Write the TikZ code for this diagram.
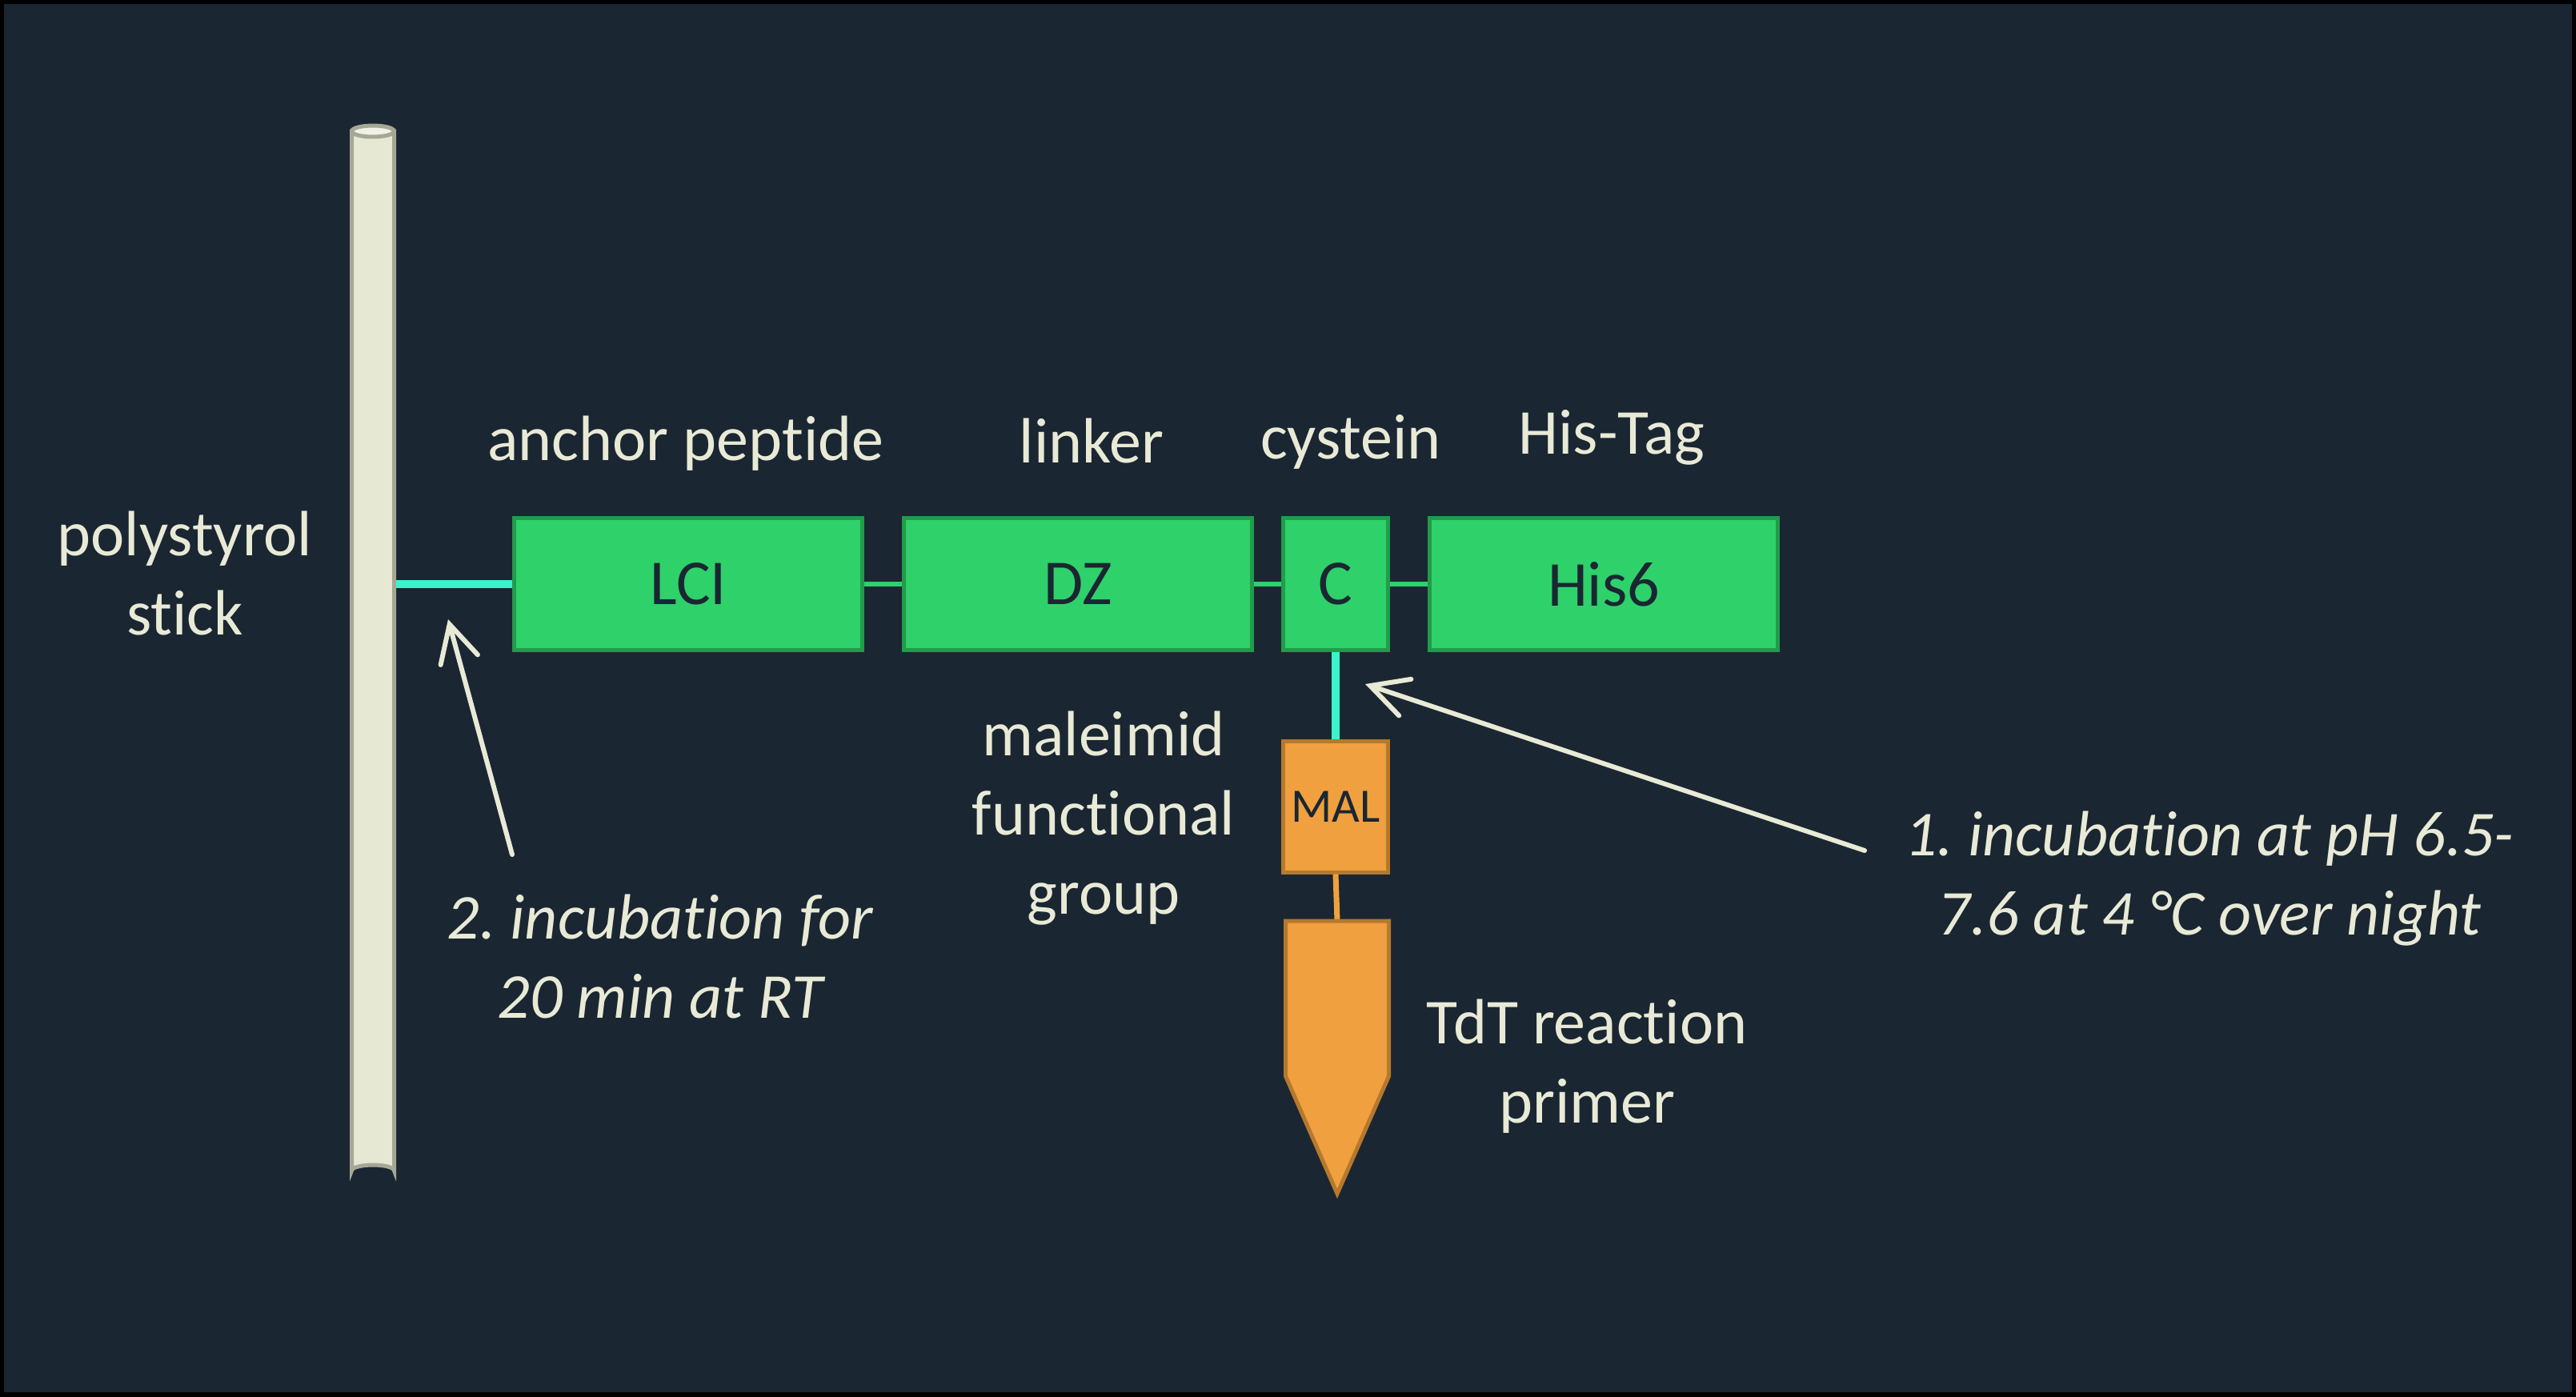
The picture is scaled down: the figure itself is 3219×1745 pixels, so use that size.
\documentclass[tikz,border=0pt]{standalone}
\usepackage{fontspec}
\setmainfont{Carlito}[Ligatures=NoCommon]
\usetikzlibrary{arrows.meta}
\frenchspacing

\definecolor{bgcol}{HTML}{1A2632}
\definecolor{txtcol}{HTML}{E8EAD6}
\definecolor{stickfill}{HTML}{E6E8D4}
\definecolor{stickcap}{HTML}{F0F2E6}
\definecolor{stickline}{HTML}{A6A896}
\definecolor{domfill}{HTML}{2ED16A}
\definecolor{domline}{HTML}{229B4B}
\definecolor{bondcol}{HTML}{3BF3CC}
\definecolor{malfill}{HTML}{F0A03F}
\definecolor{malline}{HTML}{B5792E}

\newcommand\labelfont{\fontsize{80}{99}\selectfont}
\newcommand\malfont{\fontsize{60}{72}\selectfont}

\tikzset{
  label text/.style={text=txtcol, font=\labelfont, align=center, anchor=base, inner sep=0pt},
  note text/.style={label text, font=\labelfont\itshape},
  dombox/.style={draw=domline, fill=domfill, line width=5pt, minimum height=165pt,
                 inner sep=0pt, text=bgcol, font=\labelfont},
  linkbond/.style={draw=domfill, line width=6pt},
  sbond/.style={draw=bondcol, line width=10pt},
  malbox/.style={draw=malline, fill=malfill, line width=5pt, minimum width=131pt,
                 minimum height=164pt, inner sep=0pt, text=bgcol, font=\malfont},
  stickpart/.style={draw=stickline, line width=5pt},
  hint/.style={draw=txtcol, line width=6pt, line cap=round,
               -{Straight Barb[length=46pt, width=48pt, line cap=round]}},
}

\begin{document}
\frenchspacing
\begin{tikzpicture}[x=1pt, y=-1pt]
  % page and frame
  \useasboundingbox (0,0) rectangle (3219,1745);
  \fill[bgcol] (0,0) rectangle (3219,1745);
  \draw[black, line width=10pt] (0,0) rectangle (3219,1745);

  % polystyrol stick (cylinder)
  \draw[stickpart, fill=stickfill] (439.5,164) -- (439.5,1463)
      arc[start angle=180, end angle=360, x radius=26.5, y radius=7] -- (492.5,164) -- cycle;
  \draw[stickpart, fill=stickcap] (466,164) ellipse[x radius=26.5, y radius=7];
  \coordinate (stickside) at (495,730);

  % fusion protein domains
  \node[dombox, minimum width=435pt] (lci) at (860,730) {LCI};
  \node[dombox, minimum width=435pt] (dz) at (1347,730) {DZ};
  \node[dombox, minimum width=131pt] (cys) at (1669,730) {C};
  \node[dombox, minimum width=435pt] (his) at (2004,730) {His6};

  \draw[linkbond] (lci.east) -- (dz.west);
  \draw[linkbond] (dz.east) -- (cys.west);
  \draw[linkbond] (cys.east) -- (his.west);

  % anchoring bond to the stick
  \draw[sbond] (stickside) -- (lci.west);

  % maleimide group and primer
  \node[malbox] (mal) at (1669,1008) {MAL};
  \draw[sbond] (cys.south) -- (mal.north);
  \coordinate (primertop) at (1671,1151);
  \draw[draw=malfill, line width=7pt] (mal.south) -- (primertop);
  \draw[draw=malline, fill=malfill, line width=5pt, line join=miter]
      (1606.5,1151) -- (1735.5,1151) -- (1735.5,1345) -- (1671,1492) -- (1606.5,1345) -- cycle;

  % labels (base anchor sits on the last line of a multi-line text)
  \node[label text] (stickname) at (231,793) {polystyrol\\stick};
  \node[label text] (anchorname) at (857,575) {anchor peptide};
  \node[label text] (linkername) at (1364,578) {linker};
  \node[label text] (cysname) at (1688,573) {cystein};
  \node[label text] (hisname) at (2014,567) {His-Tag};
  \node[label text] (malname) at (1379,1142) {maleimid\\functional\\group};
  \node[label text] (primername) at (1983,1403) {TdT reaction\\primer};
  \node[note text] (step2) at (825,1272) {2. incubation for\\20 min at RT};
  \node[note text] (step1) at (2761,1168) {1. incubation at pH 6.5-\\7.6 at 4 °C over night};

  % pointers for the incubation steps
  \coordinate (step1from) at (2330,1063);
  \coordinate (step1to) at (1706,855);
  \coordinate (step2from) at (640,1068);
  \coordinate (step2to) at (560,774);
  \draw[hint] (step1from) -- (step1to);
  \draw[hint] (step2from) -- (step2to);
\end{tikzpicture}
\end{document}
